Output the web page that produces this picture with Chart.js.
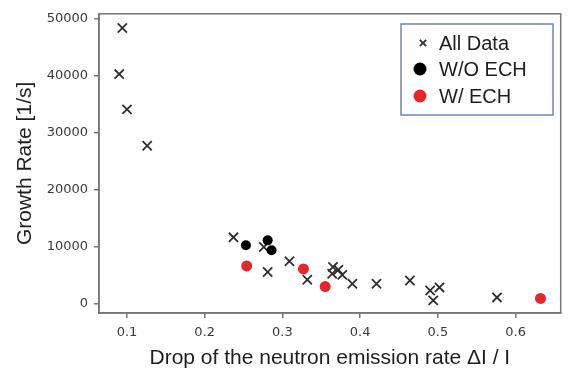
<!DOCTYPE html>
<html>
<head>
<meta charset="utf-8">
<script src="https://cdn.jsdelivr.net/npm/chart.js@4/dist/chart.umd.min.js"></script>
<style>
    html, body { margin: 0; padding: 0; background: #ffffff; }
    #wrap { width: 569px; height: 374px; position: relative; }
</style>
</head>
<body>
<div id="wrap"><canvas id="growthChart"></canvas></div>
<script>
// Data
const allX = [0.094, 0.090, 0.100, 0.126, 0.237, 0.276, 0.281, 0.309, 0.332, 0.365, 0.364, 0.372, 0.377, 0.390, 0.421, 0.464, 0.490, 0.502, 0.494, 0.576];
const allY = [48400, 40300, 34100, 27700, 11600, 9900, 5500, 7400, 4150, 6400, 5200, 5900, 5000, 3450, 3450, 4000, 2250, 2800, 520, 1040];
const woX = [0.253, 0.281, 0.286];
const woY = [10200, 11070, 9340];
const wX = [0.254, 0.327, 0.355, 0.632];
const wY = [6570, 6050, 2940, 870];
const xTicks = [0.1, 0.2, 0.3, 0.4, 0.5, 0.6];
const yTicks = [0, 10000, 20000, 30000, 40000, 50000];

const toPoints = (xs, ys) => xs.map((x, i) => ({ x: x, y: ys[i] }));

// Frame around the plot area (matplotlib style spines)
const framePlugin = {
    id: 'frame',
    beforeDatasetsDraw(chart) {
        const { ctx, chartArea: a } = chart;
        ctx.save();
        ctx.strokeStyle = '#7a7474';
        ctx.lineWidth = 1.5;
        ctx.strokeRect(a.left, a.top, a.right - a.left, a.bottom - a.top);
        ctx.restore();
    }
};

// Legend box in the upper right
const legendBox = {
    id: 'legendBox',
    afterDraw(chart) {
        const ctx = chart.ctx;
        ctx.save();
        ctx.fillStyle = '#ffffff';
        ctx.fillRect(401, 24, 152, 91);
        ctx.strokeStyle = '#7483b8';
        ctx.lineWidth = 1.5;
        ctx.strokeRect(401, 24, 152, 91);
        const rows = [43, 69, 96];
        chart.data.datasets.forEach((ds, i) => {
            const y = rows[i];
            ctx.fillStyle = ds.backgroundColor;
            ctx.strokeStyle = ds.borderColor;
            ctx.lineWidth = ds.borderWidth;
            const small = ds.pointStyle === 'crossRot';
            Chart.helpers.drawPoint(ctx, {
                pointStyle: ds.pointStyle,
                radius: small ? 4.5 : 6.5,
                borderWidth: ds.borderWidth
            }, small ? 423 : 420, y);
            ctx.fillStyle = '#1e1e1e';
            ctx.font = '20px "Liberation Sans", Arial, sans-serif';
            ctx.textBaseline = 'middle';
            ctx.textAlign = 'left';
            ctx.fillText(ds.label, 439, y + 1);
        });
        ctx.restore();
    }
};

const tickFont = { family: '"DejaVu Sans", sans-serif', size: 13 };
const titleFont = { family: '"Liberation Sans", Arial, sans-serif', size: 21 };

const ctx = document.getElementById('growthChart').getContext('2d');
window.growthChart = new Chart(ctx, {
    type: 'scatter',
    data: {
        datasets: [{
            label: 'All Data',
            data: toPoints(allX, allY),
            pointStyle: 'crossRot',
            pointRadius: 6.5,
            borderColor: '#2e2e2e',
            backgroundColor: '#2e2e2e',
            borderWidth: 1.8,
            order: 3
        }, {
            label: 'W/O ECH',
            data: toPoints(woX, woY),
            pointStyle: 'circle',
            pointRadius: 5,
            borderColor: '#000000',
            backgroundColor: '#000000',
            borderWidth: 0,
            order: 2
        }, {
            label: 'W/ ECH',
            data: toPoints(wX, wY),
            pointStyle: 'circle',
            pointRadius: 5.5,
            borderColor: '#e5262a',
            backgroundColor: '#e5262a',
            borderWidth: 0,
            order: 1
        }]
    },
    options: {
        responsive: true,
        maintainAspectRatio: false,
        animation: false,
        layout: {
            padding: { top: 10, right: 6, bottom: 0, left: 0 }
        },
        plugins: {
            legend: { display: false },
            tooltip: { enabled: false }
        },
        scales: {
            x: {
                type: 'linear',
                min: 0.064,
                max: 0.658,
                afterBuildTicks: (scale) => { scale.ticks = xTicks.map(v => ({ value: v })); },
                afterFit: (scale) => { scale.height = 61; },
                ticks: {
                    font: tickFont,
                    color: '#3a3a3a',
                    padding: 7,
                    maxRotation: 0,
                    callback: (v) => String(v)
                },
                grid: {
                    drawOnChartArea: false,
                    color: '#7a7474',
                    tickLength: 5,
                    lineWidth: 1.5
                },
                border: { color: '#7a7474', width: 1.5 },
                title: {
                    display: true,
                    text: 'Drop of the neutron emission rate \u0394I / I',
                    font: titleFont,
                    color: '#1e1e1e',
                    padding: { top: 0, bottom: 3 }
                }
            },
            y: {
                type: 'linear',
                min: -1700,
                max: 50900,
                afterBuildTicks: (scale) => { scale.ticks = yTicks.map(v => ({ value: v })); },
                afterFit: (scale) => { scale.width = 99; },
                ticks: {
                    font: tickFont,
                    color: '#3a3a3a',
                    padding: 6,
                    callback: (v) => String(v)
                },
                grid: {
                    drawOnChartArea: false,
                    color: '#7a7474',
                    tickLength: 5,
                    lineWidth: 1.5
                },
                border: { color: '#7a7474', width: 1.5 },
                title: {
                    display: true,
                    text: 'Growth Rate [1/s]',
                    font: titleFont,
                    color: '#1e1e1e',
                    padding: { top: 13, bottom: 0 }
                }
            }
        }
    },
    plugins: [framePlugin, legendBox]
});
</script>
</body>
</html>
